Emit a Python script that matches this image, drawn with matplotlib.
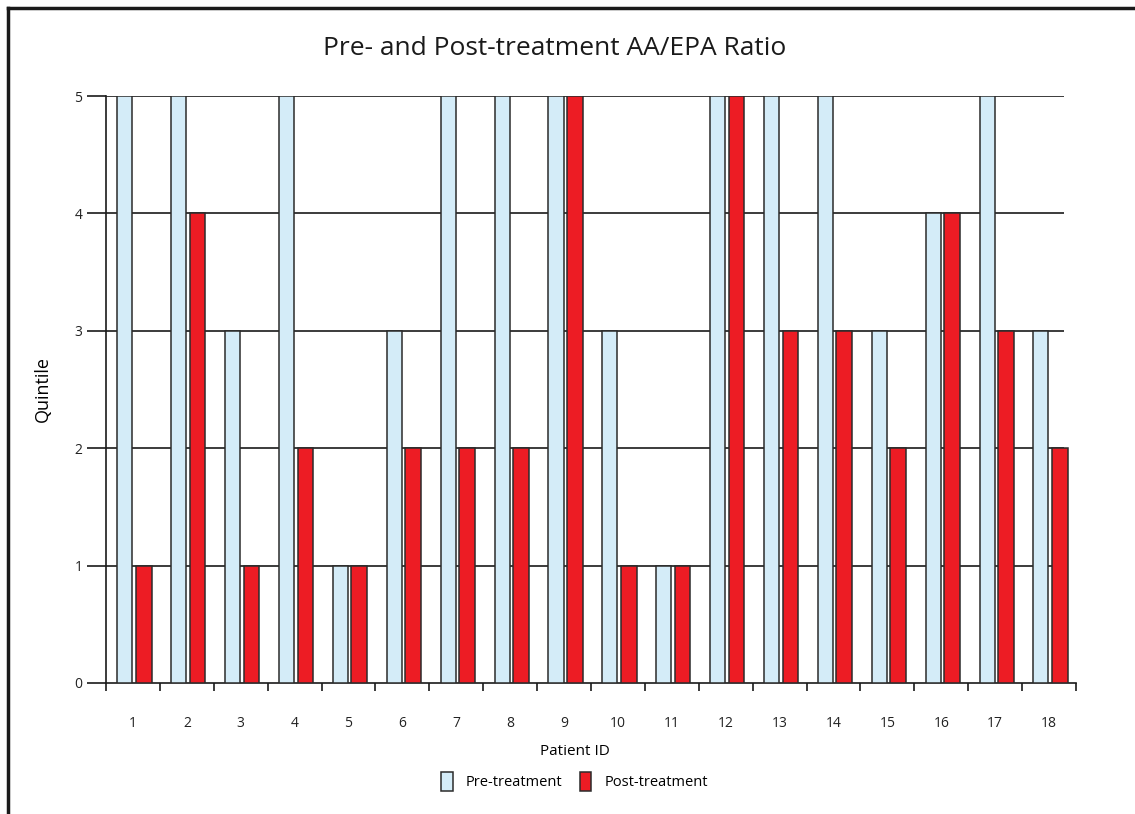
import matplotlib.pyplot as plt
import numpy as np
from matplotlib.lines import Line2D

patients = [str(i) for i in range(1, 19)]
pre_treatment = [5, 5, 3, 5, 1, 3, 5, 5, 5, 3, 1, 5, 5, 5, 3, 4, 5, 3]
post_treatment = [1, 4, 1, 2, 1, 2, 2, 2, 5, 1, 1, 5, 3, 3, 2, 4, 3, 2]
y_ticks = [0, 1, 2, 3, 4, 5]

plt.rcParams['font.family'] = ['Open Sans', 'DejaVu Sans']

fig = plt.figure(figsize=(11.35, 8.14), dpi=100)
ax = fig.add_axes([0.0934, 0.161, 0.8546, 0.721])

x = np.arange(len(patients))
edge = '#2b2b2b'
ax.bar(x - 0.15, pre_treatment, width=0.28, color='#d4ecf8', edgecolor=edge,
       linewidth=1.1, zorder=3, label='Pre-treatment')
ax.bar(x + 0.2, post_treatment, width=0.29, color='#ed1c24', edgecolor=edge,
       linewidth=1.1, zorder=3, label='Post-treatment')

ax.set_xlim(-0.5, len(patients) - 0.5)
ax.set_ylim(0, 5)
ax.set_yticks(y_ticks)
ax.set_yticklabels([str(v) for v in y_ticks], fontsize=10, color='#222222')
# horizontal grid stops a little short of the end of the x axis
ax.hlines(y_ticks[1:], -0.5, len(patients) - 0.72, color='#1a1a1a',
          linewidth=1.2, zorder=1)
ax.tick_params(axis='y', length=14, width=1.2, color='#1a1a1a', pad=3)

# category boundaries as ticks, labels at centres
ax.set_xticks(np.arange(len(patients) + 1) - 0.5)
ax.set_xticklabels([])
ax.tick_params(axis='x', which='major', length=6, width=1.2, color='#1a1a1a')
ax.set_xticks(x, minor=True)
ax.set_xticklabels(patients, minor=True, fontsize=10, color='#222222')
ax.tick_params(axis='x', which='minor', length=0, pad=24)

for s in ['top', 'right']:
    ax.spines[s].set_visible(False)
for s in ['left', 'bottom']:
    ax.spines[s].set_color('#1a1a1a')
    ax.spines[s].set_linewidth(1.2)

ax.set_ylabel('Quintile', fontsize=13)
ax.yaxis.set_label_coords(-0.056, 0.5)
ax.set_xlabel('Patient ID', fontsize=11)
ax.xaxis.set_label_coords(0.483, -0.104)
fig.text(0.489, 0.94, 'Pre- and Post-treatment AA/EPA Ratio', fontsize=19,
         ha='center', va='center', color='#1a1a1a')

ax.legend(loc='center', bbox_to_anchor=(0.483, -0.168), ncol=2, frameon=False,
          fontsize=10.5, handlelength=0.8, handleheight=1.6, handletextpad=0.9,
          columnspacing=1.2)

# figure frame (top and left visible)
fig.add_artist(Line2D([8 / 1135, 1], [1 - 8 / 814, 1 - 8 / 814], color='#1a1a1a', linewidth=2.5))
fig.add_artist(Line2D([8 / 1135, 8 / 1135], [0, 1 - 8 / 814], color='#1a1a1a', linewidth=2.5))

fig.savefig('out.png', dpi=100)
